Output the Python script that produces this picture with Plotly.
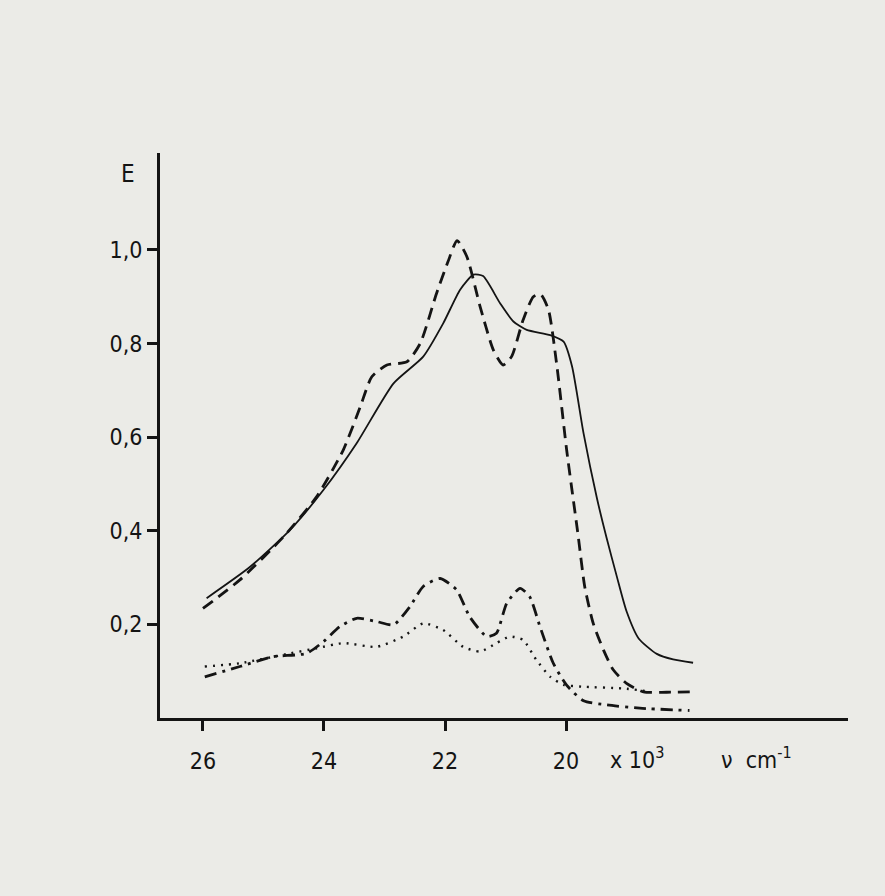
import plotly.graph_objects as go

# wavenumber (x10^3 cm^-1) and extinction E
solid_x = [25.94, 25.22, 24.56, 24.01, 23.46, 22.85, 22.36, 22.03, 21.75, 21.53, 21.37, 21.09, 20.87,
           20.65, 20.26, 20.04, 19.90, 19.71, 19.49, 19.33, 19.16, 19.00, 18.80, 18.50, 18.23, 17.90]
solid_y = [0.256, 0.323, 0.402, 0.487, 0.587, 0.715, 0.772, 0.843, 0.915, 0.947, 0.944, 0.886, 0.847,
           0.829, 0.818, 0.804, 0.751, 0.608, 0.470, 0.385, 0.302, 0.228, 0.170, 0.137, 0.125, 0.118]

dashed_x = [26.00, 25.39, 24.67, 24.12, 23.68, 23.40, 23.21, 22.96, 22.63, 22.41, 22.14, 21.95, 21.80,
            21.64, 21.42, 21.20, 21.04, 20.90, 20.71, 20.54, 20.42, 20.29, 20.15, 19.99, 19.80, 19.69,
            19.55, 19.38, 19.22, 19.00, 18.72, 18.34, 17.87]
dashed_y = [0.234, 0.295, 0.387, 0.473, 0.573, 0.665, 0.729, 0.754, 0.761, 0.800, 0.907, 0.975, 1.020,
            0.986, 0.879, 0.786, 0.754, 0.772, 0.850, 0.900, 0.905, 0.872, 0.751, 0.573, 0.390, 0.280,
            0.202, 0.145, 0.103, 0.074, 0.056, 0.055, 0.056]

dashdot_x = [25.97, 25.39, 24.84, 24.29, 24.01, 23.74, 23.46, 23.13, 22.85, 22.58, 22.36, 22.08, 21.81,
             21.59, 21.31, 21.15, 20.98, 20.76, 20.60, 20.43, 20.21, 19.99, 19.71, 19.33, 18.78, 17.96]
dashdot_y = [0.088, 0.110, 0.131, 0.138, 0.163, 0.195, 0.213, 0.206, 0.199, 0.238, 0.281, 0.298, 0.274,
             0.216, 0.174, 0.181, 0.245, 0.277, 0.259, 0.195, 0.117, 0.070, 0.037, 0.028, 0.021, 0.016]

dotted_x = [25.97, 25.39, 24.56, 24.12, 23.68, 23.13, 22.69, 22.36, 22.03, 21.70, 21.42, 21.15, 20.93,
            20.71, 20.49, 20.26, 20.04, 19.74, 19.05, 18.70]
dotted_y = [0.110, 0.117, 0.138, 0.149, 0.160, 0.152, 0.174, 0.202, 0.188, 0.152, 0.142, 0.160, 0.174,
            0.167, 0.124, 0.088, 0.071, 0.067, 0.063, 0.058]

x_ticks = [26, 24, 22, 20]
x_ticktext = ["26", "24", "22", "20"]
y_ticks = [0.2, 0.4, 0.6, 0.8, 1.0]
y_ticktext = ["0,2", "0,4", "0,6", "0,8", "1,0"]

BG = "#ebebe7"
INK = "#141414"
FONT = "DejaVu Sans Condensed, Roboto, Liberation Sans, sans-serif"

fig = go.Figure()
series = [
    (solid_x, solid_y, "solid", 1.8),
    (dashed_x, dashed_y, "12px,7px", 2.8),
    (dashdot_x, dashdot_y, "12px,6px,3px,6px", 2.8),
    (dotted_x, dotted_y, "2px,6px", 2.4),
]
for xs, ys, dash, w in series:
    fig.add_trace(go.Scatter(x=xs, y=ys, mode="lines",
                             line=dict(color=INK, width=w, dash=dash, shape="spline", smoothing=0.6),
                             showlegend=False, hoverinfo="skip"))

fig.update_layout(
    width=885, height=896,
    margin=dict(l=160, r=37, t=153, b=178),
    paper_bgcolor=BG, plot_bgcolor=BG,
    font=dict(family=FONT, color=INK, size=23),
    xaxis=dict(range=[26.71, 15.34], showline=True, linewidth=3, linecolor=INK,
               ticks="outside", ticklen=10, tickwidth=2.5, tickcolor=INK,
               tickvals=x_ticks, ticktext=x_ticktext, showgrid=False, zeroline=False,
               tickfont=dict(size=23), ticklabelstandoff=10),
    yaxis=dict(range=[0, 1.207], showline=True, linewidth=3, linecolor=INK,
               ticks="outside", ticklen=10, tickwidth=2.5, tickcolor=INK,
               tickvals=y_ticks, ticktext=y_ticktext, showgrid=False, zeroline=False,
               tickfont=dict(size=23), ticklabelstandoff=0),
    annotations=[
        dict(text="E", xref="paper", yref="paper", x=-0.046, y=0.962, showarrow=False,
             font=dict(size=24), xanchor="center", yanchor="middle"),
        dict(text="x 10<sup>3</sup>", xref="paper", yref="paper", x=0.693, y=-0.0708,
             showarrow=False, font=dict(size=23), xanchor="center", yanchor="middle"),
        dict(text="ν  cm<sup>-1</sup>", xref="paper", yref="paper", x=0.813, y=-0.0708,
             showarrow=False, font=dict(size=23), xanchor="left", yanchor="middle"),
    ],
)

fig.write_html("out.html")
